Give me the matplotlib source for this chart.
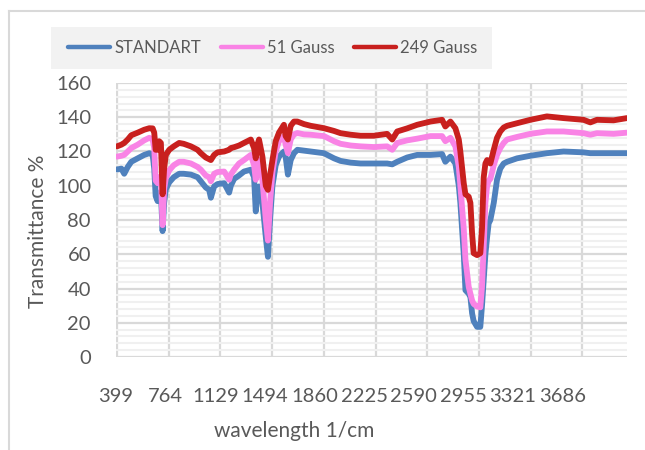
import matplotlib
matplotlib.use("Agg")
import matplotlib.pyplot as plt
from matplotlib.lines import Line2D
from matplotlib.patches import Rectangle
import numpy as np

# wavenumber grid (1/cm) and the three spectra
wn = [399, 430, 450, 475, 500, 545, 591, 627, 651, 662, 672, 686, 697, 709, 721, 732,
      744, 768, 800, 838, 870, 921, 968, 991, 1026, 1050, 1062, 1085, 1109, 1156, 1191,
      1203, 1226, 1261, 1296, 1344, 1367, 1379, 1391, 1402, 1426, 1450, 1465, 1480, 1497,
      1520, 1543, 1578, 1590, 1606, 1626, 1649, 1673, 1720, 1767, 1861, 1932, 1978, 2049,
      2119, 2213, 2307, 2343, 2378, 2448, 2519, 2613, 2695, 2718, 2754, 2789, 2813, 2824,
      2848, 2860, 2883, 2895, 2907, 2918, 2942, 2965, 2977, 2989, 3001, 3013, 3024, 3036,
      3060, 3083, 3106, 3130, 3154, 3224, 3318, 3435, 3553, 3694, 3742, 3789, 3906, 4000]

standart = [109.5, 110, 107, 111, 114, 116, 118, 119, 118, 110, 94, 91, 96, 96, 73.5, 90,
            98, 102, 105, 107, 107, 106.5, 105, 102.6, 99, 97.6, 93, 99.6, 101, 101.5, 96,
            100, 104, 106, 108.3, 109.4, 105, 85, 95, 99.6, 90, 70, 58.5, 80, 100,
            112, 117, 120, 117, 106.5, 115, 119, 121, 120.5, 120, 119, 116, 114.5, 113.5,
            113, 113, 113, 112.5, 114, 116.5, 118, 118, 118.5, 114, 117, 113, 100, 90,
            60, 39, 37, 35, 25.5, 21, 17.6, 17.6, 30, 45, 60, 70, 78, 80,
            90, 103.5, 110, 113, 114, 116, 117.5, 119, 120, 119.5, 119, 119, 119, 119]

gauss51 = [117, 117.5, 118, 120, 122, 124, 126.5, 128, 127, 122, 103, 101.5, 105, 105, 77, 98,
           104.5, 109, 112, 114, 114, 113, 111, 109.4, 106, 105, 102.6, 107, 108, 108.3, 103.5,
           106.5, 109.4, 113, 115, 118, 112, 103.5, 110, 115, 103.5, 80, 68, 90, 108,
           120, 126, 129, 124, 119, 127, 130, 130.8, 130, 129.8, 129, 126, 124.5, 123.5,
           123, 122.6, 123, 121, 125, 126.5, 127.5, 129, 129, 126, 128, 123, 111, 100,
           75, 57, 41, 37, 33, 31, 29.5, 29, 41, 65, 90, 100, 103, 104,
           112, 118, 122, 125, 127, 128.5, 130.3, 131.7, 131.7, 130.7, 129.8, 130.7, 130.3, 131]

gauss249 = [123, 124, 125, 127, 129.5, 131, 132.7, 133.6, 133.5, 131, 121, 121, 126, 125, 95, 110,
            118, 121, 123, 125, 124.5, 123, 121, 119, 116.5, 115.5, 115, 118, 119.5, 120, 121,
            122, 122.5, 123.5, 125, 127, 122, 116, 124, 127, 117, 100, 97.6, 106, 115,
            126, 131, 135.6, 129, 127, 135, 137.5, 137.5, 136, 135, 133.6, 132, 130.7, 129.8,
            129.2, 129.2, 130.3, 127, 131.7, 133.5, 135.6, 137.5, 138.5, 134.6, 137.5, 133.6, 127, 120,
            101.5, 95, 93.6, 90, 72, 60.6, 59.5, 60.6, 75, 105, 113, 115, 114, 113,
            121, 128, 131.7, 134, 135, 136.5, 138.5, 140.5, 139.5, 138.5, 137, 138.5, 138.2, 139.5]

series_names = ["STANDART", "51 Gauss", "249 Gauss"]
series_colors = ["#4F81BD", "#F983E5", "#C8201E"]
tick_labels = ["399", "764", "1129", "1494", "1860", "2225", "2590", "2955", "3321", "3686"]

plt.rcParams["font.family"] = ["Lato", "DejaVu Sans"]
txt = "#595959"

fig = plt.figure(figsize=(6.45, 4.5), dpi=100)
ax = fig.add_axes([116 / 645, 1 - 357 / 450, 511 / 645, 274 / 450])

for vals, name, col in zip([standart, gauss51, gauss249], series_names, series_colors):
    ax.plot(wn, vals, color=col, lw=4.2, label=name, solid_joinstyle="round",
            solid_capstyle="round", zorder=3)

grid_pos = [int(t) for t in tick_labels]
ax.set_xlim(399, 4001)
ax.set_ylim(0, 160)

# gridlines at the category ticks, labels sit slightly compressed as in the original
ax.set_xticks(grid_pos, minor=True)
lab_pos = grid_pos[0] - 7 + np.arange(len(tick_labels)) * 350.4
ax.set_xticks(lab_pos)
ax.set_xticklabels(tick_labels)
ax.set_yticks(np.arange(0, 161, 20))
ax.set_yticks(np.arange(0, 161, 4), minor=True)

ax.grid(False)
ax.yaxis.grid(True, which="minor", color="#F0F0F0", lw=1.5, zorder=0)
ax.yaxis.grid(True, which="major", color="#D9D9D9", lw=1.6, zorder=1)
ax.xaxis.grid(True, which="minor", color="#D9D9D9", lw=1.6, zorder=1)
ax.tick_params(axis="both", which="both", length=0, colors=txt, labelsize=14.5)
ax.tick_params(axis="y", pad=18)
ax.tick_params(axis="x", pad=22)
for s in ax.spines.values():
    s.set_visible(False)

fig.text(38 / 645, 1 - 231 / 450, "Transmittance %", rotation=90, ha="center",
         va="center", fontsize=15, color=txt)
fig.text(294 / 645, 1 - 431 / 450, "wavelength 1/cm", ha="center", va="center",
         fontsize=15, color=txt)

# legend on a light grey band
fig.patches.append(Rectangle((51 / 645, 1 - 69 / 450), 441 / 645, 42 / 450,
                             transform=fig.transFigure, facecolor="#F2F2F2",
                             edgecolor="none", zorder=0))
leg = fig.legend(loc="center", bbox_to_anchor=(273 / 645, 1 - 48 / 450), ncol=3,
                 frameon=False, fontsize=12, handlelength=2.5, handletextpad=0.25,
                 columnspacing=1.2, labelcolor=txt)
for h in leg.get_lines():
    h.set_linewidth(3.2)

# outer chart border
fig.add_artist(Line2D([9 / 645, 9 / 645], [0, 1 - 11 / 450], color="#D9D9D9", lw=1.5,
                      transform=fig.transFigure))
fig.add_artist(Line2D([9 / 645, 1], [1 - 11 / 450, 1 - 11 / 450], color="#D9D9D9", lw=1.5,
                      transform=fig.transFigure))

fig.savefig("out.png", dpi=100)
